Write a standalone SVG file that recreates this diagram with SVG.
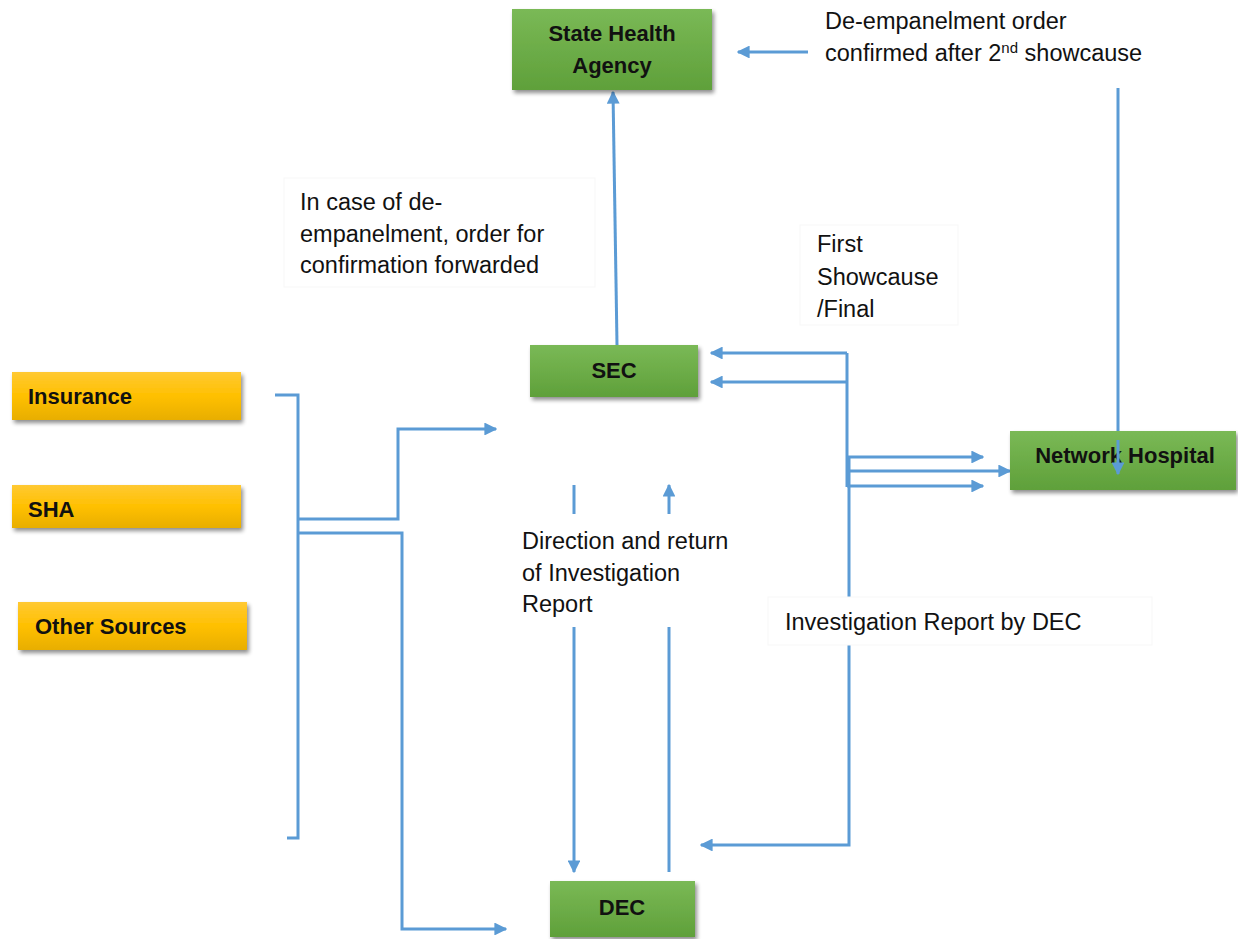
<svg xmlns="http://www.w3.org/2000/svg" width="1238" height="939" viewBox="0 0 1238 939">
<style>
.node-g{fill:url(#gGreen);filter:url(#sh)}
.node-y{fill:url(#gYellow);filter:url(#sh)}
.nt{font-family:"Liberation Sans",Arial,sans-serif;font-weight:bold;font-size:22px;fill:#111}
.lt{font-family:"Liberation Sans",Arial,sans-serif;font-size:23.5px;fill:#111}
.c{fill:none;stroke:#5b9bd5;stroke-width:3}
.lb{fill:#fff;stroke:#f7f7f7;stroke-width:1}
</style>
<defs>
<linearGradient id="gGreen" x1="0" y1="0" x2="0" y2="1">
<stop offset="0" stop-color="#7ab956"/>
<stop offset="1" stop-color="#5fa03a"/>
</linearGradient>
<linearGradient id="gYellow" x1="0" y1="0" x2="0" y2="1">
<stop offset="0" stop-color="#ffc933"/>
<stop offset="0.5" stop-color="#ffc000"/>
<stop offset="1" stop-color="#e8ae00"/>
</linearGradient>
<filter id="sh" x="-10%" y="-20%" width="125%" height="150%">
<feGaussianBlur in="SourceAlpha" stdDeviation="2"/>
<feOffset dx="2" dy="3" result="b"/>
<feComponentTransfer><feFuncA type="linear" slope="0.45"/></feComponentTransfer>
<feMerge><feMergeNode/><feMergeNode in="SourceGraphic"/></feMerge>
</filter>
<marker id="ah" viewBox="0 0 10 10" refX="9" refY="5" markerWidth="4.3" markerHeight="4.3" orient="auto" markerUnits="strokeWidth">
<path d="M0,0 L10,5 L0,10 z" fill="#5b9bd5"/>
</marker>
</defs>
<rect width="1238" height="939" fill="#fff"/>

<g id="connectors">
<path class="c" d="M275,395 H298 V838 H287"/>
<path class="c" d="M298,519 H398 V429 H496" marker-end="url(#ah)"/>
<path class="c" d="M298,533 H402 V929 H506" marker-end="url(#ah)"/>
<path class="c" d="M617,345 L613,92" marker-end="url(#ah)"/>
<path class="c" d="M808,52 H738" marker-end="url(#ah)"/>
<path class="c" d="M1118,88 V474" marker-end="url(#ah)"/>
<path class="c" d="M847,353 H711" marker-end="url(#ah)"/>
<path class="c" d="M847,382 H711" marker-end="url(#ah)"/>
<path class="c" d="M847,353 V487"/>
<path class="c" d="M849,457 V845 H701" marker-end="url(#ah)"/>
<path class="c" d="M847,457 H983" marker-end="url(#ah)"/>
<path class="c" d="M849,471 H1010" marker-end="url(#ah)"/>
<path class="c" d="M847,486 H983" marker-end="url(#ah)"/>
<path class="c" d="M574,485 V514"/>
<path class="c" d="M574,627 V872" marker-end="url(#ah)"/>
<path class="c" d="M669,514 V485" marker-end="url(#ah)"/>
<path class="c" d="M669,627 V872"/>
</g>

<g id="label-deemp-confirmed">
<text class="lt" x="825" y="29">De-empanelment order</text>
<text class="lt" x="825" y="61">confirmed after 2<tspan dy="-8" font-size="15">nd</tspan><tspan dy="8"> showcause</tspan></text>
</g>
<g id="label-in-case">
<rect class="lb" x="284" y="178" width="311" height="109"/>
<text class="lt" x="300" y="210">In case of de-</text>
<text class="lt" x="300" y="242">empanelment, order for</text>
<text class="lt" x="300" y="273">confirmation forwarded</text>
</g>
<g id="label-first-showcause">
<rect class="lb" x="800" y="225" width="158" height="100"/>
<text class="lt" x="817" y="252">First</text>
<text class="lt" x="817" y="285">Showcause</text>
<text class="lt" x="817" y="317">/Final</text>
</g>
<g id="label-direction">
<text class="lt" x="522" y="549">Direction and return</text>
<text class="lt" x="522" y="581">of Investigation</text>
<text class="lt" x="522" y="612">Report</text>
</g>
<g id="label-invreport">
<rect class="lb" x="768" y="597" width="384" height="48"/>
<text class="lt" x="785" y="630">Investigation Report by DEC</text>
</g>

<g id="node-sha-agency">
<rect class="node-g" x="512" y="9" width="200" height="81"/>
<text class="nt" x="612" y="41" text-anchor="middle">State Health</text>
<text class="nt" x="612" y="73" text-anchor="middle">Agency</text>
</g>
<g id="node-sec">
<rect class="node-g" x="530" y="345" width="168" height="52"/>
<text class="nt" x="614" y="378" text-anchor="middle">SEC</text>
</g>
<g id="node-network-hospital">
<rect class="node-g" x="1010" y="431" width="226" height="59"/>
<text class="nt" x="1125" y="463" text-anchor="middle" font-size="23">Network Hospital</text>
</g>
<g id="node-dec">
<rect class="node-g" x="550" y="881" width="145" height="56"/>
<text class="nt" x="622" y="915" text-anchor="middle">DEC</text>
</g>
<g id="node-insurance">
<rect class="node-y" x="12" y="372" width="229" height="48"/>
<text class="nt" x="28" y="404">Insurance</text>
</g>
<g id="node-sha">
<rect class="node-y" x="12" y="485" width="229" height="43"/>
<text class="nt" x="28" y="517">SHA</text>
</g>
<g id="node-other">
<rect class="node-y" x="18" y="602" width="229" height="48"/>
<text class="nt" x="35" y="634">Other Sources</text>
</g>
<path class="c" d="M1118,440 V474" marker-end="url(#ah)"/>
</svg>
